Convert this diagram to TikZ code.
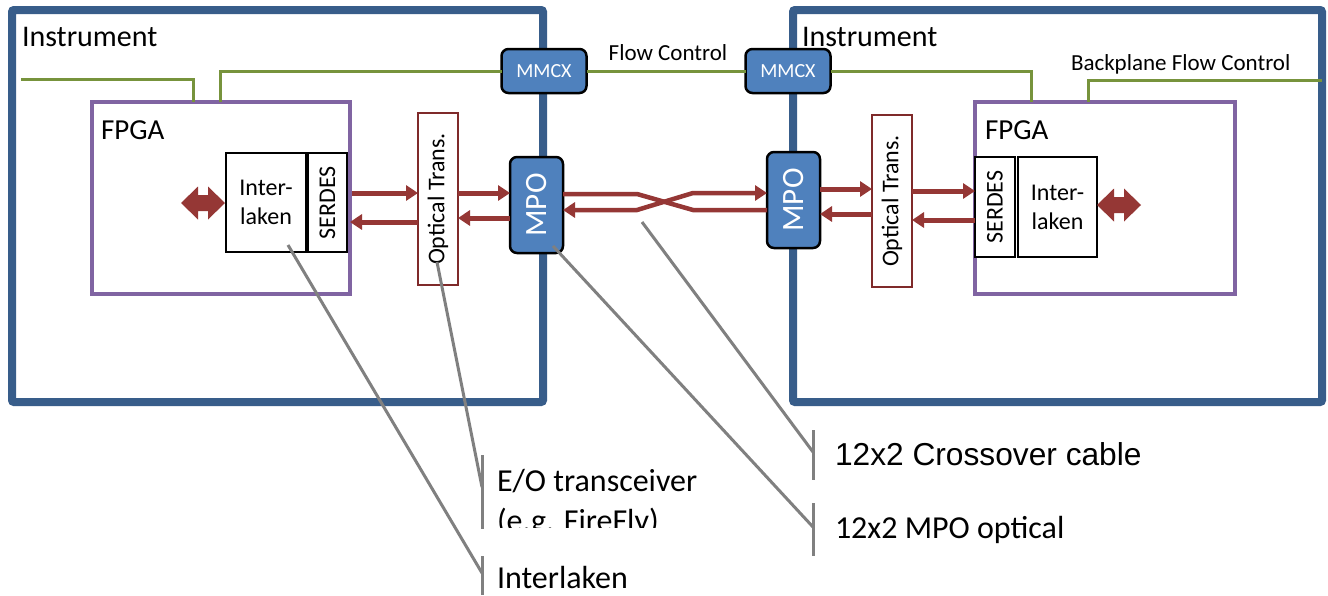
\documentclass[tikz,border=0pt]{standalone}
\usepackage{fontspec}
\setmainfont{Carlito}
\newfontfamily\arialf{Liberation Sans}
\usetikzlibrary{arrows.meta}
\definecolor{instblue}{HTML}{385D8A}
\definecolor{fpgapurple}{HTML}{8064A2}
\definecolor{connblue}{HTML}{4F81BD}
\definecolor{flowgreen}{HTML}{77933C}
\definecolor{sigred}{HTML}{953735}
\definecolor{optred}{HTML}{7F2A2A}
\definecolor{leadgray}{HTML}{808080}
\newcommand{\fsz}[1]{\fontsize{#1pt}{#1pt}\selectfont}
\begin{document}
\begin{tikzpicture}[x=1pt,y=-1pt,
  every node/.style={outer sep=0pt,inner sep=0pt},
  instbox/.style={draw=instblue,line width=8pt,rounded corners=2pt},
  fpgabox/.style={draw=fpgapurple,line width=4pt},
  blkbox/.style={draw=black,line width=2.5pt,fill=white},
  optbox/.style={draw=optred,line width=2pt,fill=white},
  connbox/.style={draw=black,line width=2.5pt,fill=connblue,rounded corners=7pt},
  flow/.style={draw=flowgreen,line width=3pt},
  sig/.style={draw=sigred,line width=5pt,-{Triangle[length=12pt,width=15pt]}},
  sigline/.style={draw=sigred,line width=4.5pt},
  lead/.style={draw=leadgray,line width=3pt},
  txt/.style={anchor=base west,text=black},
  ilk/.style={blkbox,align=center,font=\fontsize{24pt}{29pt}\selectfont}
]
\useasboundingbox (0,0) rectangle (1328,595);
\fill[white] (0,0) rectangle (1328,595);

% instruments
\node[instbox,minimum width=531pt,minimum height=392pt] (instL) at (277.5,206) {};
\node[instbox,minimum width=529pt,minimum height=392pt] (instR) at (1057.5,206) {};
\node[txt,font=\fsz{30}] (instLt) at (22,46) {Instrument};
\node[txt,font=\fsz{30}] (instRt) at (802,46) {Instrument};

% FPGAs
\node[fpgabox,minimum width=258pt,minimum height=192pt] (fpgaL) at (221,198) {};
\node[fpgabox,minimum width=260pt,minimum height=192pt] (fpgaR) at (1105,198) {};
\node[txt,font=\fsz{29}] (fpgaLt) at (101,139) {FPGA};
\node[txt,font=\fsz{29}] (fpgaRt) at (985,139) {FPGA};

% MMCX connectors
\node[connbox,minimum width=85pt,minimum height=44pt,text=white,font=\fsz{20}] (mmcxL) at (544,71) {MMCX};
\node[connbox,minimum width=85pt,minimum height=44pt,text=white,font=\fsz{20}] (mmcxR) at (788,71) {MMCX};

% flow control lines
\coordinate (gL1) at (21,79);
\draw[flow] (gL1) -| (fpgaL.north -| 193,0);
\draw[flow] (fpgaL.north -| 220,0) |- (mmcxL.west);
\draw[flow] (mmcxL.east) -- (mmcxR.west);
\node[font=\fsz{23}] (fclbl) at (668,53) {Flow Control};
\draw[flow] (mmcxR.east) -| (fpgaR.north -| 1031,0);
\draw[flow] (fpgaR.north -| 1088,0) |- (instR.east |- 0,80);
\node[txt,font=\fsz{23}] (bpfc) at (1071,70) {Backplane Flow Control};

% left FPGA internals
\node[ilk,minimum width=80pt,minimum height=99pt] (interL) at (266,202.5) {Inter-\\laken};
\node[blkbox,minimum width=39pt,minimum height=99pt] (serdesL) at (327.5,202.5) {};
\node[rotate=90,font=\fsz{24}] (serdesLt) at (serdesL) {SERDES};
\fill[sigred] (181,203) -- ++(17,-16.5) -- ++(0,8.5) -- ++(10,0) -- ++(0,-8.5) -- ++(17,16.5)
  -- ++(-17,16.5) -- ++(0,-8.5) -- ++(-10,0) -- ++(0,8.5) -- cycle;

% right FPGA internals
\node[ilk,minimum width=79pt,minimum height=100pt] (interR) at (1057.5,207) {Inter-\\laken};
\node[blkbox,minimum width=40pt,minimum height=100pt] (serdesR) at (995,207) {};
\node[rotate=90,font=\fsz{24}] (serdesRt) at (serdesR) {SERDES};
\fill[sigred] (1097,205) -- ++(17,-16.5) -- ++(0,8.5) -- ++(10,0) -- ++(0,-8.5) -- ++(17,16.5)
  -- ++(-17,16.5) -- ++(0,-8.5) -- ++(-10,0) -- ++(0,8.5) -- cycle;

% optical transceivers
\node[optbox,minimum width=40pt,minimum height=172pt] (optL) at (438,199) {};
\node[rotate=90,font=\fsz{24}] (optLt) at (optL) {Optical Trans.};
\node[optbox,minimum width=40pt,minimum height=172pt] (optR) at (892,201) {};
\node[rotate=90,font=\fsz{24}] (optRt) at (optR) {Optical Trans.};

% MPO connectors
\node[connbox,minimum width=53pt,minimum height=96pt] (mpoL) at (536.5,205) {};
\node[rotate=90,text=white,font=\fsz{31}] (mpoLt) at (mpoL) {MPO};
\node[connbox,minimum width=53pt,minimum height=96pt] (mpoR) at (793.5,200) {};
\node[rotate=90,text=white,font=\fsz{31}] (mpoRt) at (mpoR) {MPO};

% signal arrows left
\draw[sig,shorten <=5pt] (serdesL.east |- 0,193) -- (optL.west |- 0,193);
\draw[sig,shorten >=3pt] (optL.west |- 0,222) -- (serdesL.east |- 0,222);
\draw[sig] (optL.east |- 0,193) -- (mpoL.west |- 0,193);
\draw[sig] (mpoL.west |- 0,218) -- (optL.east |- 0,218);
% signal arrows right
\draw[sig] (mpoR.east |- 0,189) -- (optR.west |- 0,189);
\draw[sig] (optR.west |- 0,214) -- (mpoR.east |- 0,214);
\draw[sig] (optR.east |- 0,191) -- (serdesR.west |- 0,191);
\draw[sig] (serdesR.west |- 0,220) -- (optR.east |- 0,220);

% crossover cable
\draw[sigline] (mpoL.east |- 0,194) -- (637,194) -- (693,210) -- (mpoR.west |- 0,210);
\draw[sigline,{Triangle[length=12pt,width=15pt]}-{Triangle[length=12pt,width=15pt]}]
  (mpoL.east |- 0,210) -- (637,210) -- (693,193) -- (mpoR.west |- 0,193);

% labels
\node[txt,font=\fsz{32}] (lblEO) at (497,491) {E/O transceiver};
\begin{scope}
  \clip (490,500) rectangle (760,527);
  \node[txt,font=\fsz{32}] (lblEO2) at (497,531) {(e.g. FireFly)};
\end{scope}
\node[txt,font=\fsz{32}] (lblIL) at (497,588) {Interlaken};
\node[txt,font=\arialf\fsz{31.7}] (lblCO) at (835,465) {12x2 Crossover cable};
\node[txt,font=\fsz{32}] (lblMPO) at (835,538) {12x2 MPO optical};

% leader lines
\coordinate (srcIL) at (288,245);
\coordinate (srcEO) at (437,262);
\coordinate (srcMPO) at (553,246);
\coordinate (srcCO) at (642,222);
\coordinate (barEOt) at (482,455);
\coordinate (barEOb) at (482,529);
\coordinate (barILt) at (482,556);
\coordinate (barILb) at (482,595);
\coordinate (barCOt) at (813,430);
\coordinate (barCOb) at (813,480);
\coordinate (barMPt) at (813,503);
\coordinate (barMPb) at (813,556);
\draw[lead] (barEOt) -- (barEOb);
\draw[lead] (barILt) -- (barILb);
\draw[lead] (barCOt) -- (barCOb);
\draw[lead] (barMPt) -- (barMPb);
\draw[lead] (srcIL) -- (482,573);
\draw[lead] (srcEO) -- (482,487);
\draw[lead] (srcMPO) -- (813,527);
\draw[lead] (srcCO) -- (813,452);
\end{tikzpicture}
\end{document}
